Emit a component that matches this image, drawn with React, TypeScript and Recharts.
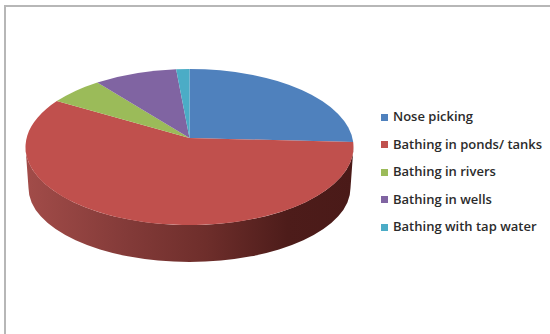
import { Legend, Pie, PieChart } from 'recharts';

const CATEGORIES = [
  'Nose picking',
  'Bathing in ponds/ tanks',
  'Bathing in rivers',
  'Bathing in wells',
  'Bathing with tap water',
];
const SHARES = [24, 61, 5.5, 8.2, 1.3];
const COLORS = ['#4f81bd', '#c0504d', '#9bbb59', '#8064a2', '#4bacc6'];

const tableData = CATEGORIES.map((name, i) => ({ name, value: SHARES[i], fill: COLORS[i] }));

// The pie is tilted: the top face is squashed vertically and the apex sits a little above centre
const SQUASH = 0.476;
const APEX_LIFT = 9;
const DEPTH = 41;
const BOTTOM_RX = 161;
const BOTTOM_RY = 74;

const rad = (deg: number) => (deg * Math.PI) / 180;

const TiltedSector = (props: any) => {
  const { cx, cy, outerRadius, startAngle, endAngle, fill } = props;
  const rx = outerRadius;
  const ry = outerRadius * SQUASH;
  const top = (a: number) => [cx + rx * Math.cos(rad(a)), cy - ry * Math.sin(rad(a))];
  const bottom = (a: number) => [
    cx + BOTTOM_RX * Math.cos(rad(a)),
    cy + DEPTH - BOTTOM_RY * Math.sin(rad(a)),
  ];

  const [sx, sy] = top(startAngle);
  const [ex, ey] = top(endAngle);
  const large = Math.abs(startAngle - endAngle) > 180 ? 1 : 0;
  const face = `M${cx} ${cy - APEX_LIFT}L${sx} ${sy}A${rx} ${ry} 0 ${large} 1 ${ex} ${ey}Z`;

  // Only the front half of the rim shows a side wall
  const wallFrom = Math.min(startAngle, 0);
  const wallTo = Math.max(endAngle, -180);
  let wall = null;
  if (wallFrom > wallTo) {
    const [t1x, t1y] = top(wallFrom);
    const [t2x, t2y] = top(wallTo);
    const [b1x, b1y] = bottom(wallFrom);
    const [b2x, b2y] = bottom(wallTo);
    wall = (
      <path
        d={`M${t1x} ${t1y}L${b1x} ${b1y}A${BOTTOM_RX} ${BOTTOM_RY} 0 0 1 ${b2x} ${b2y}L${t2x} ${t2y}A${rx} ${ry} 0 0 0 ${t1x} ${t1y}Z`}
        fill="url(#pieWall)"
      />
    );
  }

  return (
    <g>
      {wall}
      <path d={face} fill={fill} />
    </g>
  );
};

const App = () => {
  return (
    <div style={{ position: 'absolute', left: 0, top: 0, width: 550, height: 334, background: '#fff', overflow: 'hidden' }}>
      <div
        style={{
          position: 'absolute',
          left: 4,
          top: 5,
          width: 560,
          height: 340,
          borderLeft: '2px solid #b7b7b7',
          borderTop: '2px solid #b7b7b7',
        }}
      />
      <PieChart
        width={550}
        height={334}
        margin={{ top: 0, right: 0, bottom: 0, left: 0 }}
        style={{ position: 'absolute', left: 0, top: 0 }}
      >
        <defs>
          <linearGradient id="pieWall" x1="0" y1="0" x2="1" y2="0">
            <stop offset="0%" stopColor="#a24c49" />
            <stop offset="30%" stopColor="#843b39" />
            <stop offset="55%" stopColor="#6e2e2b" />
            <stop offset="80%" stopColor="#4d1c1a" />
            <stop offset="100%" stopColor="#4a1a18" />
          </linearGradient>
        </defs>
        <Pie
          data={tableData}
          dataKey="value"
          nameKey="name"
          cx={189.5}
          cy={147}
          outerRadius={164}
          startAngle={90}
          endAngle={-270}
          stroke="none"
          shape={TiltedSector}
          isAnimationActive={false}
        />
        <Legend
          layout="vertical"
          align="right"
          verticalAlign="top"
          iconType="square"
          iconSize={7}
          itemSorter={null}
          wrapperStyle={{ left: 381, top: 103, width: 169, right: 'auto' }}
          formatter={(value: string) => (
            <span
              style={{
                display: 'inline-block',
                lineHeight: '27.5px',
                fontFamily: '"Open Sans", sans-serif',
                fontSize: 13,
                fontWeight: 600,
                color: '#2b2b2b',
                marginLeft: 1,
              }}
            >
              {value}
            </span>
          )}
        />
      </PieChart>
    </div>
  );
};

export default App;
